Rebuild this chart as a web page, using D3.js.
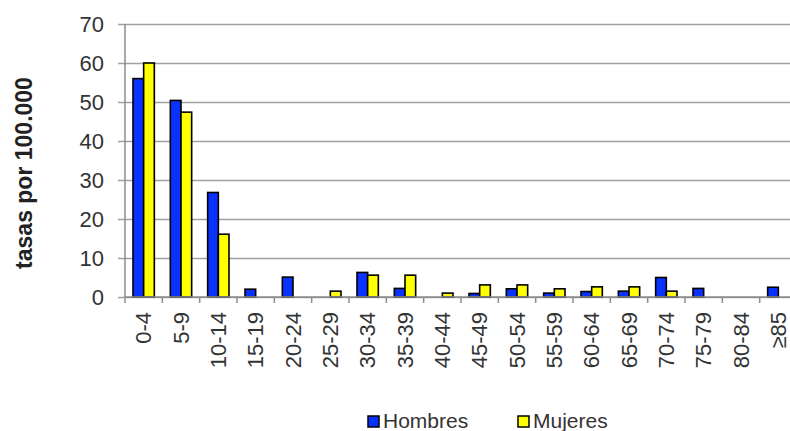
<!DOCTYPE html>
<html>
<head>
<meta charset="utf-8">
<script src="https://cdn.jsdelivr.net/npm/d3@7"></script>
<style>
  body { margin: 0; background: #fff; }
  svg { display: block; font-family: "Liberation Sans", Arial, sans-serif; }
</style>
</head>
<body>
<svg id="chart" width="790" height="431"></svg>
<script>
const ageGroups = ['0-4', '5-9', '10-14', '15-19', '20-24', '25-29', '30-34', '35-39', '40-44',
  '45-49', '50-54', '55-59', '60-64', '65-69', '70-74', '75-79', '80-84', '≥85']
const hombres = [56, 50.4, 26.8, 2, 5.1, 0, 6.3, 2.2, 0, 0.9, 2.1, 1, 1.4, 1.5, 5, 2.2, 0, 2.5]
const mujeres = [60, 47.4, 16.1, 0, 0, 1.5, 5.6, 5.6, 1, 3.1, 3.1, 2.1, 2.6, 2.6, 1.5, 0, 0, 0]
const seriesNames = ['Hombres', 'Mujeres']
const seriesColors = ['#0a32ff', '#ffff00']
const yTicks = [0, 10, 20, 30, 40, 50, 60, 70]

const svg = d3.select('#chart')
const plotLeft = 125, plotRight = 797, plotTop = 24, plotBottom = 297

const x = d3.scaleBand().domain(ageGroups).range([plotLeft, plotRight])
const x1 = d3.scaleBand().domain(seriesNames).range([0, x.bandwidth()]).paddingOuter(0.75)
const y = d3.scaleLinear().domain([0, 70]).range([plotBottom, plotTop])
const color = d3.scaleOrdinal().domain(seriesNames).range(seriesColors)

// gridlines + y axis
svg.append('g')
  .attr('transform', `translate(${plotLeft},0)`)
  .call(d3.axisLeft(y).tickValues(yTicks).tickSize(-(plotRight - plotLeft)).tickSizeOuter(0).tickPadding(21))
  .call(g => g.select('.domain').remove())
  .call(g => g.selectAll('.tick line').attr('x1', -7).attr('stroke', '#a0a0a0').attr('stroke-width', 1.5))
  .call(g => g.selectAll('.tick text').attr('font-size', 22).attr('fill', '#333').attr('font-family', null))

svg.append('line')
  .attr('x1', plotLeft).attr('x2', plotLeft).attr('y1', plotTop).attr('y2', plotBottom)
  .attr('stroke', '#8c8c8c').attr('stroke-width', 1.5)

// bars
const rows = ageGroups.map((a, i) => ({ age: a, vals: [hombres[i], mujeres[i]] }))
svg.append('g').selectAll('g')
  .data(rows)
  .join('g')
  .attr('transform', d => `translate(${x(d.age)},0)`)
  .selectAll('rect')
  .data(d => d.vals.map((v, j) => ({ key: seriesNames[j], v })).filter(e => e.v > 0))
  .join('rect')
  .attr('x', d => x1(d.key))
  .attr('width', x1.bandwidth())
  .attr('y', d => y(d.v))
  .attr('height', d => y(0) - y(d.v))
  .attr('fill', d => color(d.key))
  .attr('stroke', '#000')
  .attr('stroke-width', 1.6)

// x axis
svg.append('line')
  .attr('x1', plotLeft).attr('x2', plotRight).attr('y1', plotBottom).attr('y2', plotBottom)
  .attr('stroke', '#8c8c8c').attr('stroke-width', 1.5)
svg.append('g').selectAll('line')
  .data(d3.range(ageGroups.length + 1))
  .join('line')
  .attr('x1', i => plotLeft + i * x.step()).attr('x2', i => plotLeft + i * x.step())
  .attr('y1', plotBottom).attr('y2', plotBottom + 6)
  .attr('stroke', '#8c8c8c').attr('stroke-width', 1.5)

svg.append('g').selectAll('text')
  .data(ageGroups)
  .join('text')
  .attr('transform', d => `translate(${x(d) + x.bandwidth() / 2},312) rotate(-90)`)
  .attr('text-anchor', 'end')
  .attr('dy', '0.35em')
  .attr('font-size', 22)
  .attr('fill', '#333')
  .text(d => d)

// y title
svg.append('text')
  .attr('transform', 'translate(24,173) rotate(-90)')
  .attr('text-anchor', 'middle')
  .attr('dy', '0.35em')
  .attr('font-size', 23)
  .attr('font-weight', 'bold')
  .attr('fill', '#222')
  .text('tasas por 100.000')

// legend
const legendX = [368, 518]
const legend = svg.append('g').selectAll('g')
  .data(seriesNames)
  .join('g')
  .attr('transform', (d, i) => `translate(${legendX[i]},416)`)
legend.append('rect')
  .attr('width', 11).attr('height', 11)
  .attr('fill', d => color(d))
  .attr('stroke', '#000').attr('stroke-width', 1.5)
legend.append('text')
  .attr('x', 15).attr('y', 12)
  .attr('font-size', 21)
  .attr('fill', '#333')
  .text(d => d)
</script>
</body>
</html>
